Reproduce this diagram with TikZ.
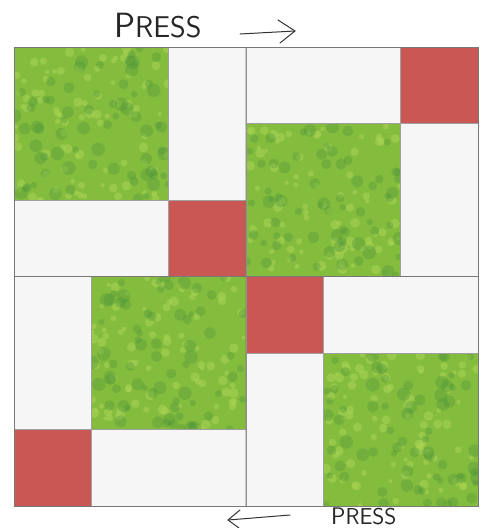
\documentclass[tikz,border=0pt]{standalone}
\usetikzlibrary{calc}
\definecolor{lgreen}{RGB}{132,188,62}
\definecolor{dgreen}{RGB}{78,150,58}
\definecolor{ygreen}{RGB}{168,210,82}
\definecolor{quiltred}{RGB}{201,88,84}
\definecolor{quiltwhite}{RGB}{246,246,246}
\definecolor{seam}{RGB}{120,120,120}
\tikzset{
  piece/.style={draw=seam!70, line width=0.4pt, inner sep=0pt, outer sep=0pt},
  sz/.style 2 args={minimum width=#1pt, minimum height=#2pt},
  whitepc/.style={piece, fill=quiltwhite},
  redpc/.style={piece, fill=quiltred},
  greenpc/.style={piece, fill=lgreen,
    path picture={
      \coordinate (sw) at (path picture bounding box.south west);
      \coordinate (ne) at (path picture bounding box.north east);
      \foreach \i in {1,...,90}{
        \pgfmathsetmacro\px{rnd}\pgfmathsetmacro\py{rnd}\pgfmathsetmacro\pr{2+3*rnd}
        \fill[ygreen,opacity=.6] let \p1=(sw),\p2=(ne) in
          ({\x1+\px*(\x2-\x1)},{\y1+\py*(\y2-\y1)}) circle (\pr pt);
      }
      \foreach \i in {1,...,70}{
        \pgfmathsetmacro\px{rnd}\pgfmathsetmacro\py{rnd}\pgfmathsetmacro\pr{3+4*rnd}
        \fill[dgreen,opacity=.35] let \p1=(sw),\p2=(ne) in
          ({\x1+\px*(\x2-\x1)},{\y1+\py*(\y2-\y1)}) circle (\pr pt);
      }
    }},
  hand/.style={font=\sffamily, text=black!85, inner sep=0pt},
  handline/.style={line width=1pt, black!80, line cap=round, line join=round}
}
\begin{document}
\begin{tikzpicture}[x=1pt,y=-1pt]
\pgfmathsetseed{4242}
\path[fill=white!97!black!3] (0,0) rectangle (487,528);
\useasboundingbox (0,0) rectangle (487,528);
\clip (0,0) rectangle (487,528);
% top-left quadrant
\node[greenpc, sz={154.67}{153}] (g1) at (91.33,123.5) {};
\node[whitepc, sz={77.33}{153}] (w1) at (207.33,123.5) {};
\node[whitepc, sz={154.67}{76.5}] (w2) at (91.33,238.25) {};
\node[redpc, sz={77.33}{76.5}] (r1) at (207.33,238.25) {};
% top-right quadrant
\node[whitepc, sz={154.67}{76.5}] (w3) at (323.33,85.25) {};
\node[redpc, sz={77.33}{76.5}] (r2) at (439.33,85.25) {};
\node[greenpc, sz={154.67}{153}] (g2) at (323.33,200) {};
\node[whitepc, sz={77.33}{153}] (w4) at (439.33,200) {};
% bottom-left quadrant
\node[whitepc, sz={77.33}{153}] (w5) at (52.67,353) {};
\node[greenpc, sz={154.67}{153}] (g3) at (168.67,353) {};
\node[redpc, sz={77.33}{76.5}] (r3) at (52.67,467.75) {};
\node[whitepc, sz={154.67}{76.5}] (w6) at (168.67,467.75) {};
% bottom-right quadrant
\node[redpc, sz={77.33}{76.5}] (r4) at (284.67,314.75) {};
\node[whitepc, sz={154.67}{76.5}] (w7) at (400.67,314.75) {};
\node[whitepc, sz={77.33}{153}] (w8) at (284.67,429.5) {};
\node[greenpc, sz={154.67}{153}] (g4) at (400.67,429.5) {};
% quadrant seams
\draw[seam, line width=0.6pt] (w1.north east) -- (w8.south west);
\draw[seam, line width=0.6pt] (w2.south west) -- (w4.south east);
\draw[seam, line width=0.6pt] (g1.north west) rectangle (g4.south east);
% press labels
\node[hand, anchor=base west] (t1) at (114,37) {\fontsize{35}{35}\selectfont P\fontsize{30}{30}\selectfont RESS};
\coordinate (a1s) at (240,34);
\coordinate (a1e) at (295,31);
\draw[handline] (a1s) -- (a1e);
\draw[handline] (a1e) ++(-17,-11) -- (a1e) -- ++(-15,12);
\node[hand, anchor=base west] (t2) at (331,524.5) {\fontsize{24}{24}\selectfont P\fontsize{23}{23}\selectfont RESS};
\coordinate (a2s) at (290,515);
\coordinate (a2e) at (228,520);
\draw[handline] (a2s) -- (a2e);
\draw[handline] (a2e) ++(12,-10) -- (a2e) -- ++(11,8);
\end{tikzpicture}
\end{document}
